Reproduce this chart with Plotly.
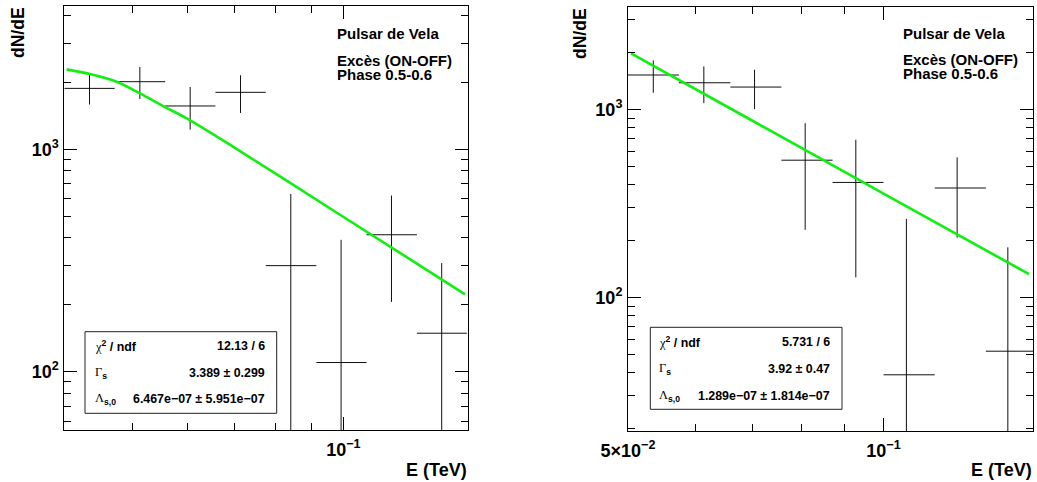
import numpy as np
import plotly.graph_objects as go

W, H = 1037, 482

# ---------------- data: left panel ----------------
L_xlo = [0.0400, 0.0472, 0.0557, 0.0657, 0.0775, 0.0915, 0.1079, 0.1273]
L_xhi = [0.0472, 0.0557, 0.0657, 0.0775, 0.0915, 0.1079, 0.1273, 0.1500]
L_x = [0.04345, 0.05126, 0.06047, 0.07134, 0.08414, 0.09925, 0.1171, 0.1381]
L_y = [1880, 2015, 1567, 1805, 300, 110, 413, 149]
L_yerr = [290, 330, 341, 348, 330, 282, 207, 159]
L_fit_x = [0.04030, 0.04351, 0.04750, 0.05129, 0.05535, 0.05979, 0.06967, 0.09676, 0.1491]
L_fit_y = [2289, 2181, 2014, 1785, 1565, 1379, 1027, 531, 223]

# ---------------- data: right panel ----------------
R_xlo = [0.0500, 0.0574, 0.0660, 0.0758, 0.0871, 0.1000, 0.1149, 0.1320]
R_xhi = [0.0574, 0.0660, 0.0758, 0.0871, 0.1000, 0.1149, 0.1320, 0.1500]
R_x = [0.05355, 0.06142, 0.07048, 0.08085, 0.09276, 0.1064, 0.1221, 0.1401]
R_y = [1524, 1386, 1315, 537, 409, 38.8, 382, 51.8]
R_yerr = [298, 306, 311, 308, 281, 223, 174, 133]
R_fit_x = [0.05041, 0.0700, 0.1000, 0.1484]
R_fit_y = [1986, 873, 357, 133]

# text
header = ["Pulsar de Vela", "Excès (ON-OFF)", "Phase 0.5-0.6"]
L_stats = ["12.13 / 6", "3.389 ± 0.299", "6.467e−07 ± 5.951e−07"]
R_stats = ["5.731 / 6", "3.92 ± 0.47", "1.289e−07 ± 1.814e−07"]
y_title = "dN/dE"
x_title = "E (TeV)"

FONT = "Liberation Sans"


def px(x):
    return x / W


def py(y):
    return 1 - y / H


fig = go.Figure()


def add_panel(xa, ya, xlo, xhi, xc, yc, yerr, fx, fy):
    eplus = [h - c for h, c in zip(xhi, xc)]
    eminus = [c - l for l, c in zip(xlo, xc)]
    fig.add_trace(go.Scatter(
        x=xc, y=yc, mode="markers", xaxis=xa, yaxis=ya,
        marker=dict(size=0.1, color="black"),
        error_x=dict(type="data", array=eplus, arrayminus=eminus, symmetric=False,
                     width=0, thickness=1, color="#111"),
        error_y=dict(type="data", array=yerr, width=0, thickness=1, color="#111"),
        showlegend=False, hoverinfo="skip"))
    fig.add_trace(go.Scatter(
        x=fx, y=fy, mode="lines", xaxis=xa, yaxis=ya,
        line=dict(color="#10f010", width=2.6, shape="spline", smoothing=0.8),
        showlegend=False, hoverinfo="skip"))


add_panel("x", "y", L_xlo, L_xhi, L_x, L_y, L_yerr, L_fit_x, L_fit_y)
add_panel("x2", "y2", R_xlo, R_xhi, R_x, R_y, R_yerr, R_fit_x, R_fit_y)

sup3 = "10<sup>3</sup>"
sup2 = "10<sup>2</sup>"
tickfont = dict(family=FONT, size=18, color="black", weight="bold")


def xaxis_cfg(domain, rng, tv, tt, minor):
    return dict(type="log", domain=domain, range=rng, showgrid=False, zeroline=False,
                showline=True, linecolor="black", linewidth=1, mirror="ticks",
                ticks="inside", ticklen=13, tickcolor="black", tickwidth=1,
                tickmode="array", tickvals=tv, ticktext=tt, tickfont=tickfont,
                ticklabelstandoff=3, automargin=False,
                minor=dict(ticks="inside", ticklen=7, tickcolor="black", tickwidth=1,
                           tickmode="array", tickvals=minor, showgrid=False))


def yaxis_cfg(domain, rng, minor):
    return dict(type="log", domain=domain, range=rng, showgrid=False, zeroline=False,
                showline=True, linecolor="black", linewidth=1, mirror="ticks",
                ticks="inside", ticklen=13, tickcolor="black", tickwidth=1,
                tickmode="array", tickvals=[100, 1000], ticktext=[sup2, sup3],
                tickfont=tickfont, ticklabelstandoff=1, automargin=False,
                minor=dict(ticks="inside", ticklen=7, tickcolor="black", tickwidth=1,
                           tickmode="array", tickvals=minor, showgrid=False))


L_minor_y = [60, 70, 80, 90, 200, 300, 400, 500, 600, 700, 800, 900, 2000, 3000, 4000]
R_minor_y = [20, 30, 40, 50, 60, 70, 80, 90, 200, 300, 400, 500, 600, 700, 800, 900, 2000, 3000]

xa1 = xaxis_cfg([px(64.3), px(468.3)], [np.log10(0.04), np.log10(0.1507)],
                [0.1], ["10<sup>−1</sup>"], [0.05, 0.06, 0.07, 0.08, 0.09])
xa1["anchor"] = "y"
ya1 = yaxis_cfg([py(430), py(5.7)], [1.738, 3.646], L_minor_y)
ya1["anchor"] = "x"
xa2 = xaxis_cfg([px(628), px(1033)], [np.log10(0.05), np.log10(0.15)],
                [0.05, 0.1], ["5×10<sup>−2</sup>", "10<sup>−1</sup>"], [0.06, 0.07, 0.08, 0.09])
xa2["anchor"] = "y2"
ya2 = yaxis_cfg([py(431), py(7.3)], [1.29, 3.543], R_minor_y)
ya2["anchor"] = "x2"

annotations = []
shapes = []


def txt(x, y, s, size, xanchor="left", angle=0, yanchor="middle"):
    annotations.append(dict(xref="paper", yref="paper", x=px(x), y=py(y), text=s,
                            showarrow=False, xanchor=xanchor, yanchor=yanchor,
                            textangle=angle,
                            font=dict(family=FONT, size=size, color="black", weight="bold")))


def stats_box(x0, y0, x1, y1, lx, rx, rows_y, vals):
    shapes.append(dict(type="rect", xref="paper", yref="paper",
                       x0=px(x0), x1=px(x1), y0=py(y1), y1=py(y0),
                       line=dict(color="#222", width=1), fillcolor="white", layer="above"))
    labels = [
        "<span style='font-family:Liberation Serif;font-weight:normal'>χ</span><sup>2</sup> / ndf",
        "<span style='font-family:Liberation Serif;font-weight:normal'>Γ</span><sub>s</sub>",
        "<span style='font-family:Liberation Serif;font-weight:normal'>Λ</span><sub>s,0</sub>",
    ]
    for lab, v, yy in zip(labels, vals, rows_y):
        txt(lx, yy, lab, 12.4, "left")
        txt(rx, yy, v, 12.4, "right")


# left panel texts
txt(335, 33.3, header[0], 15)
txt(335, 60.5, header[1], 15)
txt(335, 74.3, header[2], 15)
txt(18, 33, y_title, 17.5, "center", -90)
txt(468.5, 469.5, x_title, 18, "right")
stats_box(85, 331.7, 276.7, 413.3, 93.3, 266.7, [345.7, 372.7, 399], L_stats)

# right panel texts
txt(901, 33.3, header[0], 15)
txt(901, 59.8, header[1], 15)
txt(901, 73.3, header[2], 15)
txt(580, 34, y_title, 17.5, "center", -90)
txt(1033.5, 469.5, x_title, 18, "right")
stats_box(650.3, 327.3, 842, 409.3, 657, 832, [341.7, 369, 395.7], R_stats)

fig.update_layout(
    width=W, height=H, autosize=False,
    margin=dict(l=0, r=0, t=0, b=0, pad=0, autoexpand=False),
    paper_bgcolor="white", plot_bgcolor="white",
    showlegend=False,
    xaxis=xa1, yaxis=ya1, xaxis2=xa2, yaxis2=ya2,
    annotations=annotations, shapes=shapes,
    font=dict(family=FONT, color="black"),
)

fig.write_html("out.html", config={"displayModeBar": False},
               post_script="document.body.style.margin='0';document.body.style.overflow='hidden';")
